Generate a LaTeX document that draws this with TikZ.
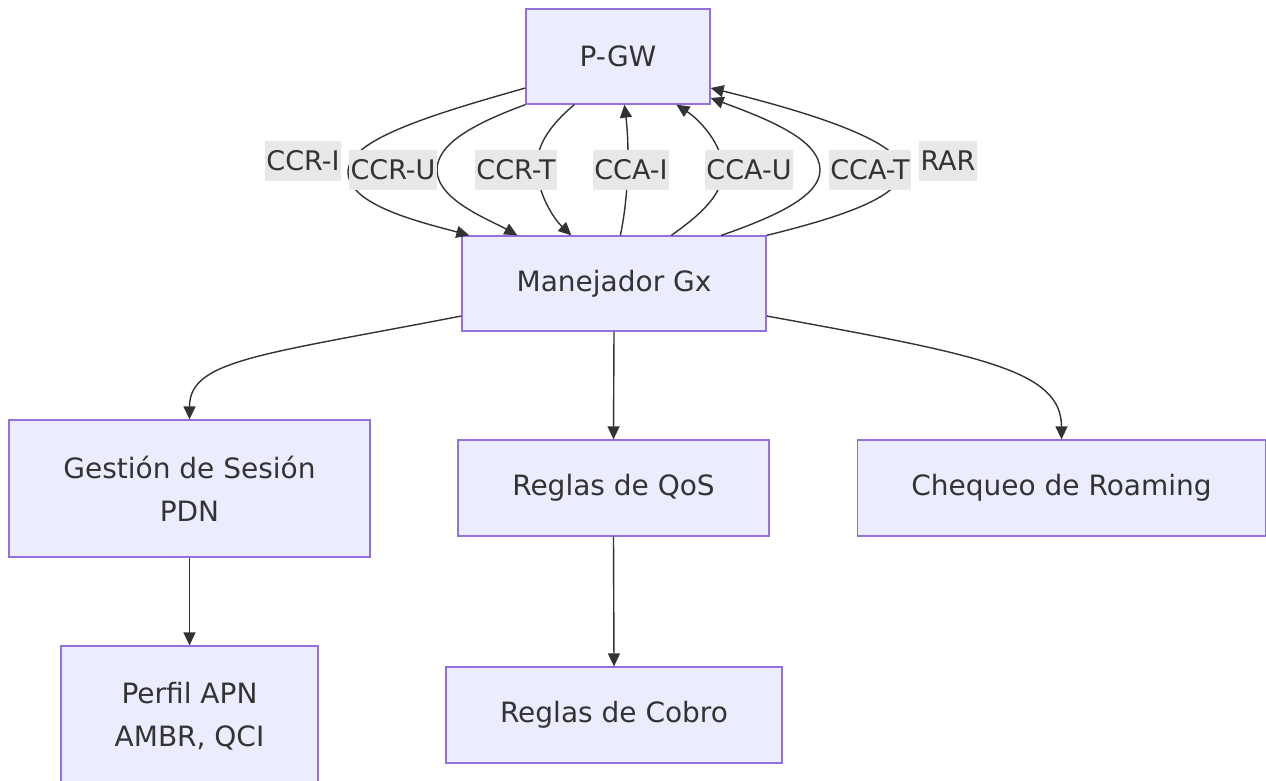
\documentclass[tikz,border=0pt]{standalone}
\usepackage{fontspec}
\setmainfont{DejaVu Sans}
\usetikzlibrary{arrows.meta,calc}
\definecolor{boxfill}{HTML}{ECECFF}
\definecolor{boxline}{HTML}{9370DB}
\definecolor{ink}{HTML}{333333}
\definecolor{lblbg}{HTML}{E8E8E8}
\begin{document}
\begin{tikzpicture}[x=1pt,y=-1pt,
  box/.style={draw=boxline,fill=boxfill,line width=1.3pt,inner sep=0pt,align=center,text=ink,
    font=\fontsize{28}{43}\selectfont},
  lbl/.style={fill=lblbg,text=ink,inner xsep=1.5pt,inner ysep=0pt,minimum height=40pt,
    font=\fontsize{27}{30}\selectfont},
  conn/.style={draw=ink,line width=1.4pt,-{Triangle[length=13pt,width=12pt]}}]
\useasboundingbox (0,0) rectangle (1266,780);
% nodes
\node[box,minimum width=184pt,minimum height=95pt] (pgw) at (618,56.5) {P-GW};
\node[box,minimum width=304pt,minimum height=95pt] (gx) at (614,283.5) {Manejador Gx};
\node[box,minimum width=361pt,minimum height=137pt] (ges) at (189.5,488.5) {Gestión de Sesión\\PDN};
\node[box,minimum width=311pt,minimum height=96pt] (qos) at (613.5,488) {Reglas de QoS};
\node[box,minimum width=408pt,minimum height=96pt] (roam) at (1061.5,488) {Chequeo de Roaming};
\node[box,minimum width=257pt,minimum height=140pt] (apn) at (189.5,716) {Perfil APN\\AMBR, QCI};
\node[box,minimum width=336pt,minimum height=96pt] (cobro) at (614,715) {Reglas de Cobro};
% top connectors
\draw[conn] ($(pgw.west)+(0,31.5)$) .. controls (430,115) and (348,140) .. (348,172)
  .. controls (348,205) and (420,222) .. ($(gx.north west)+(8,0)$);
\draw[conn] (pgw.south west) .. controls (470,125) and (437,145) .. (437,170)
  .. controls (437,200) and (490,220) .. ($(gx.north west)+(56,0)$);
\draw[conn] ($(pgw.south west)+(49,0)$) .. controls (550,125) and (537,145) .. (537,165)
  .. controls (537,195) and (555,220) .. ($(gx.north west)+(110,0)$);
\draw[conn] ($(gx.north west)+(159,0)$) .. controls (628,200) and (630,150) .. ($(pgw.south west)+(99,0)$);
\draw[conn] ($(gx.north west)+(210,0)$) .. controls (700,215) and (723,195) .. (723,170)
  .. controls (723,145) and (700,120) .. ($(pgw.south west)+(151,0)$);
\draw[conn] ($(gx.north west)+(260,0)$) .. controls (780,215) and (820,195) .. (820,170)
  .. controls (820,140) and (770,120) .. ($(pgw.east)+(0,41.5)$);
\draw[conn] (gx.north east) .. controls (850,215) and (902,195) .. (902,170)
  .. controls (902,140) and (800,110) .. ($(pgw.east)+(0,31.5)$);
% labels
\node[lbl] (l1) at (303,161) {CCR-I};
\node[lbl] (l2) at (393,170) {CCR-U};
\node[lbl] (l3) at (516,170) {CCR-T};
\node[lbl] (l4) at (631,170) {CCA-I};
\node[lbl] (l5) at (749,170) {CCA-U};
\node[lbl] (l6) at (870,170) {CCA-T};
\node[lbl] (l7) at (948,161) {RAR};
% lower connectors
\draw[conn] ($(gx.west)+(0,32.5)$) .. controls (260,355) and (189.5,360) .. (ges.north);
\draw[conn] ($(gx.east)+(0,32.5)$) .. controls (980,355) and (1061.5,370) .. (roam.north);
\draw[conn] (gx.south) -- (qos.north);
\draw[conn] (ges.south) -- (apn.north);
\draw[conn] (qos.south) -- (cobro.north);
\end{tikzpicture}
\end{document}
